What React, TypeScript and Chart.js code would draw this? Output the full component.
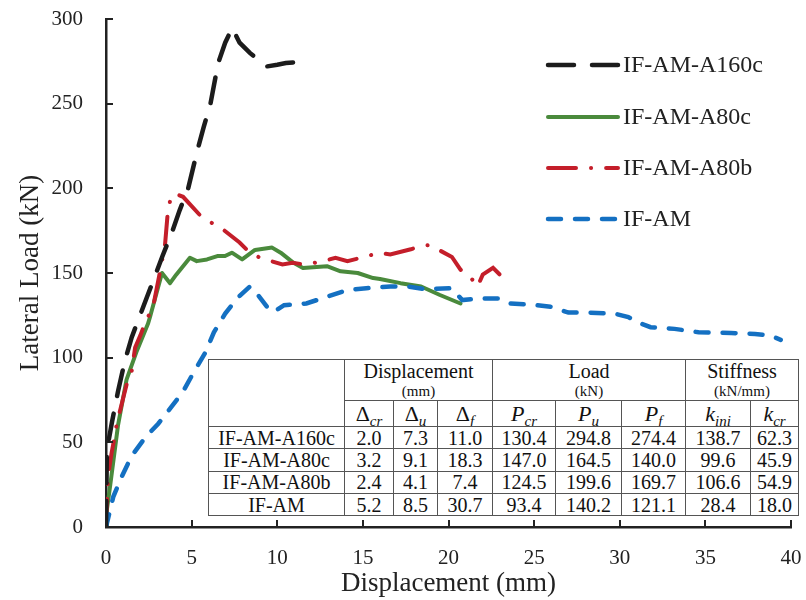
import React, { useEffect, useRef } from 'react';
import { Chart, registerables } from 'chart.js';

Chart.register(...registerables);

// ---- Data ----
const seriesNames = ['IF-AM-A160c', 'IF-AM-A80c', 'IF-AM-A80b', 'IF-AM'];

const a160cX = [0, 0.05, 0.35, 0.7, 1.1, 1.5, 2.1, 2.7, 3.3, 3.85, 4.3, 4.8, 5.3, 5.7, 6.1, 6.55, 6.96, 7.37, 7.8, 8.4, 9.0, 9.4, 10.0, 10.5, 11.0];
const a160cY = [0, 45, 62, 80, 98, 112, 128, 144, 160, 174, 187, 200, 221, 236, 250, 274, 286, 294.8, 286, 280, 275, 272, 273, 274, 274.4];

const a80cX = [0, 0.05, 0.25, 0.7, 1.2, 1.8, 2.45, 2.57, 3.27, 3.74, 4.1, 4.9, 5.3, 5.9, 6.5, 6.95, 7.35, 7.95, 8.7, 9.7, 10.2, 10.95, 11.5, 12.9, 13.7, 14.7, 15.6, 16.0, 17.2, 18.4, 19.5, 20.7];
const a80cY = [0, 10, 25, 60, 87, 104, 120, 124, 150, 144, 149, 159, 157, 158, 160, 160, 162, 158, 163.6, 165, 162, 156, 153, 154, 151, 150, 147, 146.5, 144, 142, 137, 132];

const a80bX = [0, 0.05, 0.12, 0.33, 0.5, 0.63, 1.0, 1.2, 1.5, 1.7, 2.0, 2.3, 2.75, 3.1, 3.45, 3.6, 3.75, 4.0, 4.5, 5.5, 6.1, 6.8, 7.8, 8.4, 9.0, 10.3, 10.9, 11.6, 12.7, 13.4, 14.1, 15.3, 15.9, 16.6, 17.8, 18.4, 18.9, 20.2, 20.7, 21.4, 21.7, 22.0, 22.6, 23.0, 23.1];
const a80bY = [0, 15, 30, 44, 53, 61, 76, 84, 92, 106, 113, 121, 130, 148, 167, 185, 193, 197, 195, 184, 180, 176, 168, 162, 159, 155, 156, 155, 157, 159, 157, 160, 162, 161, 164, 166, 166.5, 159.5, 152, 146, 142, 149, 153, 149, 144];

const ifamX = [0, 0.43, 0.93, 1.5, 2.3, 3.05, 3.75, 4.5, 5.1, 5.8, 6.3, 6.96, 7.65, 8.4, 8.8, 9.4, 9.8, 10.4, 11.7, 12.9, 14.1, 15.2, 16.6, 17.6, 18.6, 20.2, 20.8, 21.9, 22.9, 23.6, 25.2, 26.0, 27.0, 28.1, 29.7, 30.5, 31.1, 31.8, 33.2, 34.6, 36.5, 37.9, 38.8, 39.4];
const ifamY = [0, 18, 30, 42, 53, 61, 70, 80, 91, 103, 115, 126, 135, 142, 138, 130, 127, 131, 132, 136, 140, 141, 142, 142, 140.5, 141, 134, 135, 135, 132, 131, 130, 126.6, 126.6, 126, 124, 120.6, 118, 117, 115, 114.6, 114, 113, 110.5];

const xTickMin = 0;
const xTickMax = 40;
const xTickStep = 5;
const yTickMin = 0;
const yTickMax = 300;
const yTickStep = 50;

// Table data
const tableSpecimens = ['IF-AM-A160c', 'IF-AM-A80c', 'IF-AM-A80b', 'IF-AM'];
const deltaCr = ['2.0', '3.2', '2.4', '5.2'];
const deltaU = ['7.3', '9.1', '4.1', '8.5'];
const deltaF = ['11.0', '18.3', '7.4', '30.7'];
const pCr = ['130.4', '147.0', '124.5', '93.4'];
const pU = ['294.8', '164.5', '199.6', '140.2'];
const pF = ['274.4', '140.0', '169.7', '121.1'];
const kIni = ['138.7', '99.6', '106.6', '28.4'];
const kCr = ['62.3', '45.9', '54.9', '18.0'];

const FONT = '"Liberation Serif", "Times New Roman", serif';

function zip(xs: number[], ys: number[]) {
  return xs.map((x, i) => ({ x, y: ys[i] }));
}

const inwardTicks = {
  id: 'inwardTicks',
  afterDraw(chart: any) {
    const { ctx, scales } = chart;
    const xs = scales.x;
    const ys = scales.y;
    const area = chart.chartArea;
    ctx.save();
    ctx.strokeStyle = '#222';
    ctx.lineWidth = 2;
    ctx.beginPath();
    xs.ticks.forEach((t: any) => {
      const px = Math.round(xs.getPixelForValue(t.value));
      ctx.moveTo(px, area.bottom);
      ctx.lineTo(px, area.bottom - 7);
    });
    ys.ticks.forEach((t: any) => {
      const py = Math.round(ys.getPixelForValue(t.value));
      ctx.moveTo(area.left, py);
      ctx.lineTo(area.left + 7, py);
    });
    ctx.stroke();
    ctx.restore();
  },
};

const customLegend = {
  id: 'customLegend',
  afterDraw(chart: any) {
    const { ctx } = chart;
    const x0 = 548;
    const x1 = 618;
    const rowY = [65, 117, 168, 219];
    chart.data.datasets.forEach((ds: any, i: number) => {
      const y = rowY[i];
      ctx.save();
      ctx.strokeStyle = ds.borderColor;
      ctx.lineWidth = ds.borderWidth;
      ctx.lineCap = ds.borderCapStyle || 'butt';
      ctx.setLineDash(ds.borderDash || []);
      ctx.beginPath();
      ctx.moveTo(x0, y);
      ctx.lineTo(x1, y);
      ctx.stroke();
      ctx.setLineDash([]);
      ctx.fillStyle = '#222';
      ctx.font = `24px ${FONT}`;
      ctx.textBaseline = 'middle';
      ctx.textAlign = 'left';
      ctx.fillText(ds.label, 623, y + 1);
      ctx.restore();
    });
  },
};

const cellBase: React.CSSProperties = {
  border: '1px solid #555',
  padding: 0,
  textAlign: 'center',
  verticalAlign: 'middle',
  lineHeight: 1,
  whiteSpace: 'nowrap',
  overflow: 'hidden',
};

const subStyle: React.CSSProperties = {
  fontStyle: 'italic',
  fontSize: 15,
  verticalAlign: '-0.3em',
  lineHeight: 0,
};

function Sym({ base, sub, italicBase }: { base: string; sub: string; italicBase: boolean }) {
  return (
    <span>
      <span style={{ fontStyle: italicBase ? 'italic' : 'normal', fontSize: 22 }}>{base}</span>
      <span style={subStyle}>{sub}</span>
    </span>
  );
}

function DataTable() {
  const colWidths = [136, 49, 44, 55, 63, 66, 64, 65, 48];
  const rows = tableSpecimens.map((name, i) => [name, deltaCr[i], deltaU[i], deltaF[i], pCr[i], pU[i], pF[i], kIni[i], kCr[i]]);
  return (
    <table
      style={{
        position: 'absolute',
        left: 208,
        top: 359,
        width: 590,
        borderCollapse: 'collapse',
        tableLayout: 'fixed',
        background: '#fff',
        fontFamily: FONT,
        fontSize: 20,
        color: '#111',
        border: '1.5px solid #444',
      }}
    >
      <colgroup>
        {colWidths.map((w, i) => (
          <col key={i} style={{ width: w }} />
        ))}
      </colgroup>
      <tbody>
        <tr style={{ height: 41 }}>
          <td style={cellBase} rowSpan={2}></td>
          <td style={cellBase} colSpan={3}>
            <div>Displacement</div>
            <div style={{ fontSize: 15, marginTop: 3 }}>(mm)</div>
          </td>
          <td style={cellBase} colSpan={3}>
            <div>Load</div>
            <div style={{ fontSize: 15, marginTop: 3 }}>(kN)</div>
          </td>
          <td style={cellBase} colSpan={2}>
            <div>Stiffness</div>
            <div style={{ fontSize: 15, marginTop: 3 }}>(kN/mm)</div>
          </td>
        </tr>
        <tr style={{ height: 26 }}>
          <td style={cellBase}><Sym base="Δ" sub="cr" italicBase={false} /></td>
          <td style={cellBase}><Sym base="Δ" sub="u" italicBase={false} /></td>
          <td style={cellBase}><Sym base="Δ" sub="f" italicBase={false} /></td>
          <td style={cellBase}><Sym base="P" sub="cr" italicBase={true} /></td>
          <td style={cellBase}><Sym base="P" sub="u" italicBase={true} /></td>
          <td style={cellBase}><Sym base="P" sub="f" italicBase={true} /></td>
          <td style={cellBase}><Sym base="k" sub="ini" italicBase={true} /></td>
          <td style={cellBase}><Sym base="k" sub="cr" italicBase={true} /></td>
        </tr>
        {rows.map((r, i) => (
          <tr key={i} style={{ height: 22.3 }}>
            {r.map((v, j) => (
              <td key={j} style={cellBase}>{v}</td>
            ))}
          </tr>
        ))}
      </tbody>
    </table>
  );
}

export default function App() {
  const canvasRef = useRef<HTMLCanvasElement | null>(null);

  useEffect(() => {
    document.body.style.margin = '0';
    const canvas = canvasRef.current;
    if (!canvas) return;
    const chart = new Chart(canvas, {
      type: 'line',
      data: {
        datasets: [
          {
            label: seriesNames[0],
            data: zip(a160cX, a160cY),
            borderColor: '#1c1c1c',
            borderWidth: 4.5,
            borderDash: [26, 18],
            borderCapStyle: 'round',
            pointRadius: 0,
            tension: 0,
            order: 1,
          },
          {
            label: seriesNames[1],
            data: zip(a80cX, a80cY),
            borderColor: '#4a8a3c',
            borderWidth: 4,
            borderCapStyle: 'round',
            borderJoinStyle: 'round',
            pointRadius: 0,
            tension: 0,
            order: 4,
          },
          {
            label: seriesNames[2],
            data: zip(a80bX, a80bY),
            borderColor: '#c41e2a',
            borderWidth: 4,
            borderDash: [28, 15, 0.1, 15],
            borderCapStyle: 'round',
            pointRadius: 0,
            tension: 0,
            order: 3,
          },
          {
            label: seriesNames[3],
            data: zip(ifamX, ifamY),
            borderColor: '#1470c2',
            borderWidth: 4.5,
            borderDash: [13, 14],
            borderCapStyle: 'round',
            pointRadius: 0,
            tension: 0,
            order: 2,
          },
        ] as any,
      },
      options: {
        animation: false,
        responsive: false,
        maintainAspectRatio: false,
        layout: { padding: { left: 0, top: 19, right: 15, bottom: 0 } },
        plugins: {
          legend: { display: false },
          tooltip: { enabled: false },
        },
        scales: {
          x: {
            type: 'linear',
            min: xTickMin,
            max: xTickMax,
            ticks: { stepSize: xTickStep, color: '#222', font: { family: FONT, size: 21 }, padding: 11, maxRotation: 0 },
            grid: { display: false },
            border: { display: true, color: '#222', width: 2.5 },
            title: { display: true, text: 'Displacement (mm)', color: '#222', font: { family: FONT, size: 27 }, padding: { top: 0, bottom: 0 } },
            afterFit: (s: any) => { s.height = 73; s.paddingLeft = 0; s.paddingRight = 0; },
          },
          y: {
            type: 'linear',
            min: yTickMin,
            max: yTickMax,
            ticks: { stepSize: yTickStep, color: '#222', font: { family: FONT, size: 21 }, padding: 15 },
            grid: { display: false },
            border: { display: true, color: '#222', width: 2.5 },
            title: { display: true, text: 'Lateral Load (kN)', color: '#222', font: { family: FONT, size: 27 }, padding: { top: 15, bottom: 0 } },
            afterFit: (s: any) => { s.width = 106; s.paddingTop = 0; s.paddingBottom = 0; },
          },
        },
      } as any,
      plugins: [inwardTicks, customLegend],
    });
    return () => chart.destroy();
  }, []);

  return (
    <div style={{ position: 'relative', width: 806, height: 600, background: '#fff' }}>
      <canvas ref={canvasRef} width={806} height={600} style={{ display: 'block' }} />
      <DataTable />
    </div>
  );
}
